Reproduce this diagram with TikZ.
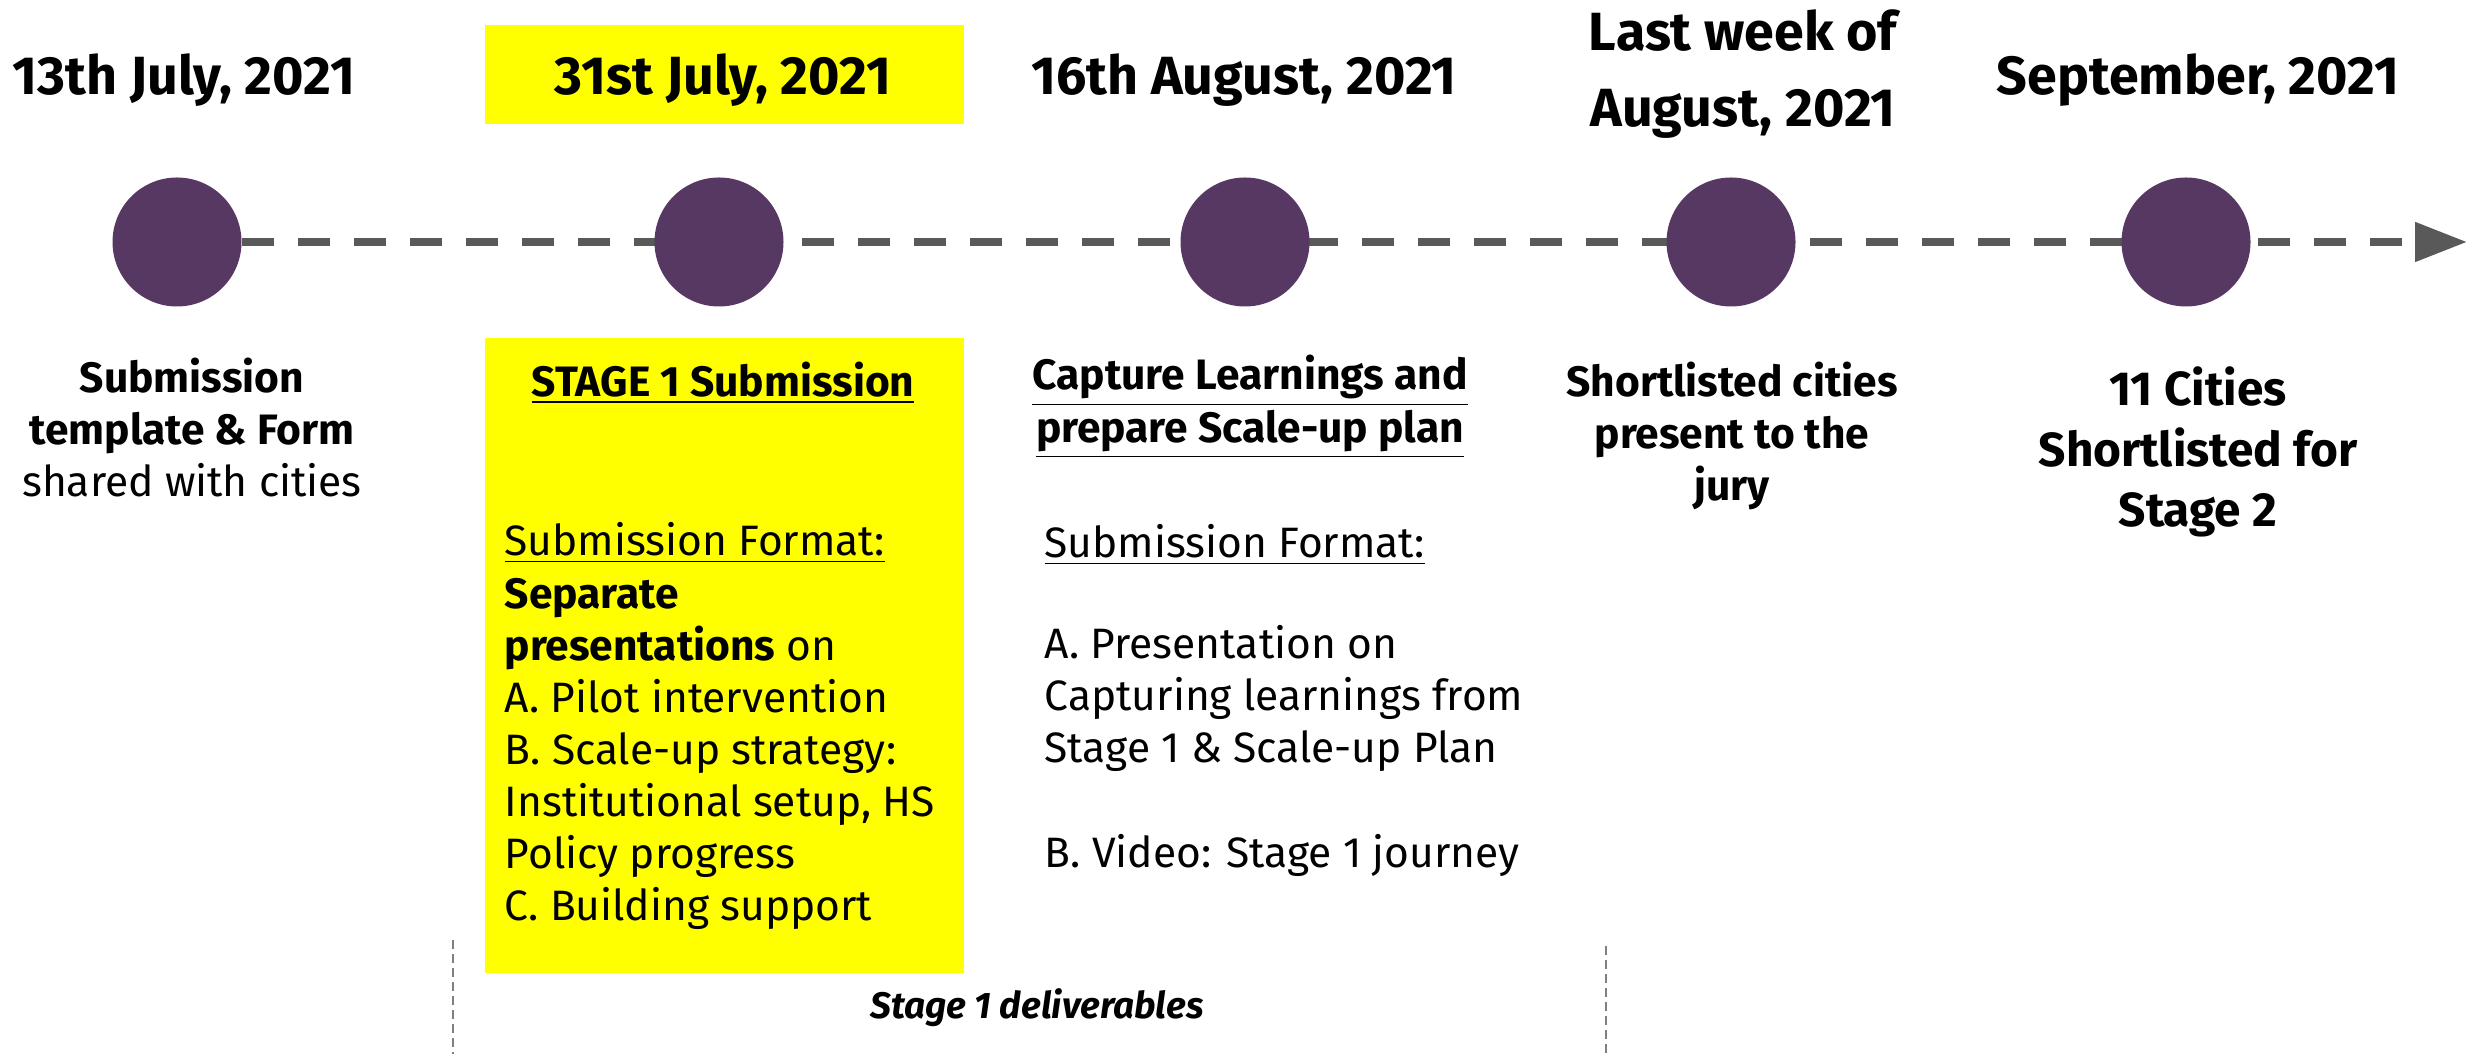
\documentclass[tikz,border=0pt]{standalone}
\usepackage{fontspec}
\setmainfont{Fira Sans}
\usetikzlibrary{arrows.meta,backgrounds}
\definecolor{dotc}{RGB}{87,56,99}
\definecolor{linc}{RGB}{89,89,89}
\definecolor{hlc}{RGB}{255,255,0}
\definecolor{vlc}{RGB}{128,128,128}
\tikzset{
  dotnode/.style={circle,fill=dotc,minimum size=12.9mm,inner sep=0pt},
  datel/.style={font=\fontsize{15.3}{21.6}\selectfont\bfseries,align=center,inner sep=0pt},
  bodyc/.style={font=\fontsize{12.1}{14.8}\selectfont,align=center,inner sep=0pt},
  bodyl/.style={font=\fontsize{12.1}{14.8}\selectfont,align=left,inner sep=0pt,anchor=west},
  bigc/.style={font=\fontsize{13.6}{17.1}\selectfont\bfseries,align=center,inner sep=0pt},
  hlbox/.style={fill=hlc,inner sep=0pt},
  timeline/.style={draw=linc,line width=0.8mm,dash pattern=on 3.2mm off 2.4mm,-{Triangle[length=5.2mm,width=3.8mm]}},
  divider/.style={draw=vlc,line width=0.2mm,dash pattern=on 0.9mm off 0.5mm}
}
\begin{document}
\begin{tikzpicture}[x=0.1mm,y=-0.1mm]
\useasboundingbox (0,0) rectangle (2469,1054);
% yellow boxes
\node[hlbox,minimum width=47.9mm,minimum height=9.9mm] (hltop) at (724.5,74.5) {};
\node[hlbox,minimum width=47.9mm,minimum height=63.5mm] (hlbot) at (724.5,655.5) {};
% circles
\node[dotnode] (c1) at (177,242) {};
\node[dotnode] (c2) at (719,242) {};
\node[dotnode] (c3) at (1245,242) {};
\node[dotnode] (c4) at (1731,242) {};
\node[dotnode] (c5) at (2186,242) {};
\coordinate (tip) at (2467,242);
\begin{scope}[on background layer]
\draw[timeline] (c1.east) -- (tip);
\end{scope}
% dates
\node[datel] (d1) at (184,80) {13th July, 2021};
\node[datel] (d2) at (723,80) {31st July, 2021};
\node[datel] (d3) at (1244,80) {16th August, 2021};
\node[datel] (d4) at (1743,74) {Last week of\\August, 2021};
\node[datel] (d5) at (2198,80) {September, 2021};
% descriptions
\node[bodyc] (t1) at (192,428) {\textbf{Submission}\\\textbf{template \& Form}\\shared with cities};
\node[bodyc,font=\fontsize{12.1}{14.8}\selectfont\bfseries] (t2h) at (723,383) {\underline{STAGE 1 Submission}};
\node[bodyl] (t2b) at (504,726) {\underline{Submission Format:}\\\textbf{Separate}\\\textbf{presentations} on\\A. Pilot intervention\\B. Scale-up strategy:\\Institutional setup, HS\\Policy progress\\C. Building support};
\node[bodyc,font=\fontsize{12.1}{14.8}\selectfont\bfseries] (t3h) at (1250,407) {\underline{Capture Learnings and}\\\underline{prepare Scale-up plan}};
\node[bodyl] (t3f) at (1044,545) {\underline{Submission Format:}};
\node[bodyl] (t3a) at (1044,698) {A. Presentation on\\Capturing learnings from\\Stage 1 \& Scale-up Plan};
\node[bodyl] (t3b) at (1044,855) {B. Video: Stage 1 journey};
\node[bodyc,font=\fontsize{12.1}{14.8}\selectfont\bfseries] (t4) at (1732,436) {Shortlisted cities\\present to the\\jury};
\node[bigc] (t5) at (2198,452) {11 Cities\\Shortlisted for\\Stage 2};
% dividers
\coordinate (v1t) at (453,940);
\coordinate (v1b) at (453,1054);
\coordinate (v2t) at (1606,946);
\coordinate (v2b) at (1606,1054);
\draw[divider] (v1t) -- (v1b);
\draw[divider] (v2t) -- (v2b);
\node[font=\fontsize{10.5}{12}\selectfont\bfseries\itshape,inner sep=0pt] (del) at (1037,1008) {Stage 1 deliverables};
\end{tikzpicture}
\end{document}
